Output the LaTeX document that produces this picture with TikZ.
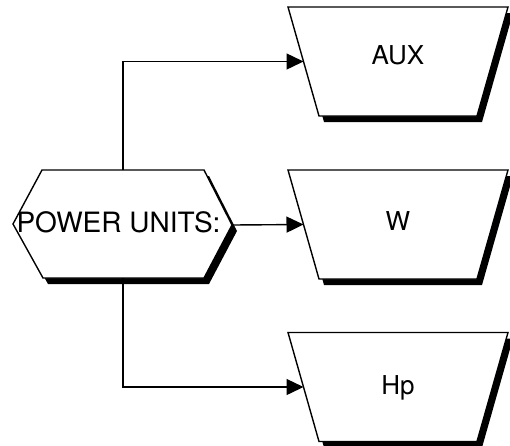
\documentclass[tikz,border=0pt]{standalone}
\usepackage{fontspec}
\setmainfont{TeX Gyre Heros}
\usetikzlibrary{arrows.meta}

\tikzset{
  outline/.style = {draw, fill=white, line width=1.4pt, line join=miter},
  shade/.style = {fill=black},
  label/.style = {inner sep=0pt, font=\fontsize{26}{30}\selectfont},
  link/.style = {line width=1.4pt, -{Triangle[length=17pt, width=16pt]}}
}

\begin{document}
\begin{tikzpicture}[x=1pt, y=-1pt]

   \useasboundingbox (0,0) rectangle (510,445);

    % Hexagon with its drop shadow
    \fill[shade, shift={(5,6)}] (13,224) -- (42,170) -- (204,170) -- (232,225) -- (204,278) -- (43,278) -- cycle;
    \draw[outline] (13,224) -- (42,170) -- (204,170) -- (232,225) -- (204,278) -- (43,278) -- cycle;
    \node[label, font=\fontsize{28}{32}\selectfont] (pu) at (118.5,222.5) {POWER UNITS:};
    \coordinate (pu-top) at (123,170);
    \coordinate (pu-right) at (232,225);
    \coordinate (pu-bot) at (123,278);

    % The three unit boxes (name / centre y / text y / text)
    \foreach \n/\cy/\ty/\t in {aux/61.5/55/AUX, w/224.5/221/W, hp/387/387.5/Hp}{
      \fill[shade, shift={(5,6)}] (288,\cy-54.5) -- (508,\cy-54.5) -- (477,\cy+54.5) -- (319,\cy+54.5) -- cycle;
      \draw[outline] (288,\cy-54.5) -- (508,\cy-54.5) -- (477,\cy+54.5) -- (319,\cy+54.5) -- cycle;
      \node[label] (\n) at (398,\ty) {\t};
      \coordinate (\n-in) at (303.5,\cy);
    }

    % Connectors
    \draw[link] (pu-top) |- (aux-in);
    \draw[link] (pu-right) -- (w-in);
    \draw[link] (pu-bot) |- (hp-in);

\end{tikzpicture}
\end{document}
